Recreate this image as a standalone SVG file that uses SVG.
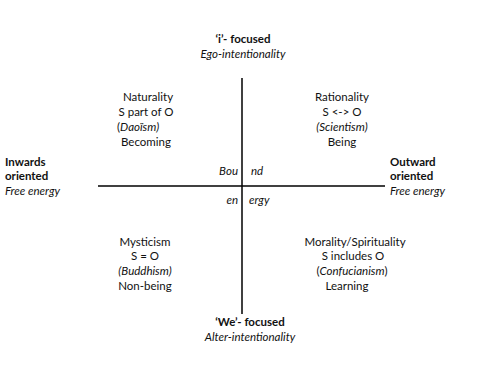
<svg xmlns="http://www.w3.org/2000/svg" width="500" height="375" viewBox="0 0 500 375">
<style>
text{font-family:Lato,"Open Sans","Liberation Sans",sans-serif;font-size:11.5px;fill:#111}
.c{text-anchor:middle}
.b{font-weight:bold}
.i{font-style:italic}
.e{text-anchor:end}
line{stroke:#000;stroke-width:1.5}
</style>
<rect width="500" height="375" fill="#fff"/>
<g id="connectors">
<line x1="242" y1="78" x2="242" y2="314"/>
<line x1="98" y1="186" x2="385" y2="186"/>
</g>
<g id="top">
<text class="c b" x="243" y="43">‘i’- focused</text>
<text class="c i" x="243" y="58">Ego-intentionality</text>
</g>
<g id="naturality">
<text class="c" x="148" y="101">Naturality</text>
<text class="c" x="146" y="116">S part of O</text>
<text x="117" y="131">(<tspan class="i">Daoïsm)</tspan></text>
<text class="c" x="146" y="146">Becoming</text>
</g>
<g id="rationality">
<text class="c" x="342" y="101">Rationality</text>
<text class="c" x="342" y="116">S &lt;-&gt; O</text>
<text class="c i" x="342" y="131">(Scientism)</text>
<text class="c" x="342" y="146">Being</text>
</g>
<g id="inwards">
<text class="b" x="5" y="166">Inwards</text>
<text class="b" x="5" y="180">oriented</text>
<text class="i" x="5" y="195">Free energy</text>
</g>
<g id="outward">
<text class="b" x="390" y="166">Outward</text>
<text class="b" x="390" y="180">oriented</text>
<text class="i" x="390" y="195">Free energy</text>
</g>
<g id="bound">
<text class="e i" x="238" y="175">Bou</text>
<text class="i" x="251" y="175">nd</text>
<text class="e i" x="238" y="204">en</text>
<text class="i" x="249" y="204">ergy</text>
</g>
<g id="mysticism">
<text class="c" x="145" y="246">Mysticism</text>
<text class="c" x="145" y="260">S = O</text>
<text class="c i" x="145" y="275">(Buddhism)</text>
<text class="c" x="145" y="290">Non-being</text>
</g>
<g id="morality">
<text class="c" x="355" y="246">Morality/Spirituality</text>
<text class="c" x="353" y="260">S  includes O</text>
<text class="c" x="352" y="275">(<tspan class="i">Confucianism</tspan>)</text>
<text class="c" x="347" y="290">Learning</text>
</g>
<g id="bottom">
<text class="c b" x="250" y="326">‘We’- focused</text>
<text class="c i" x="250" y="341">Alter-intentionality</text>
</g>
</svg>
